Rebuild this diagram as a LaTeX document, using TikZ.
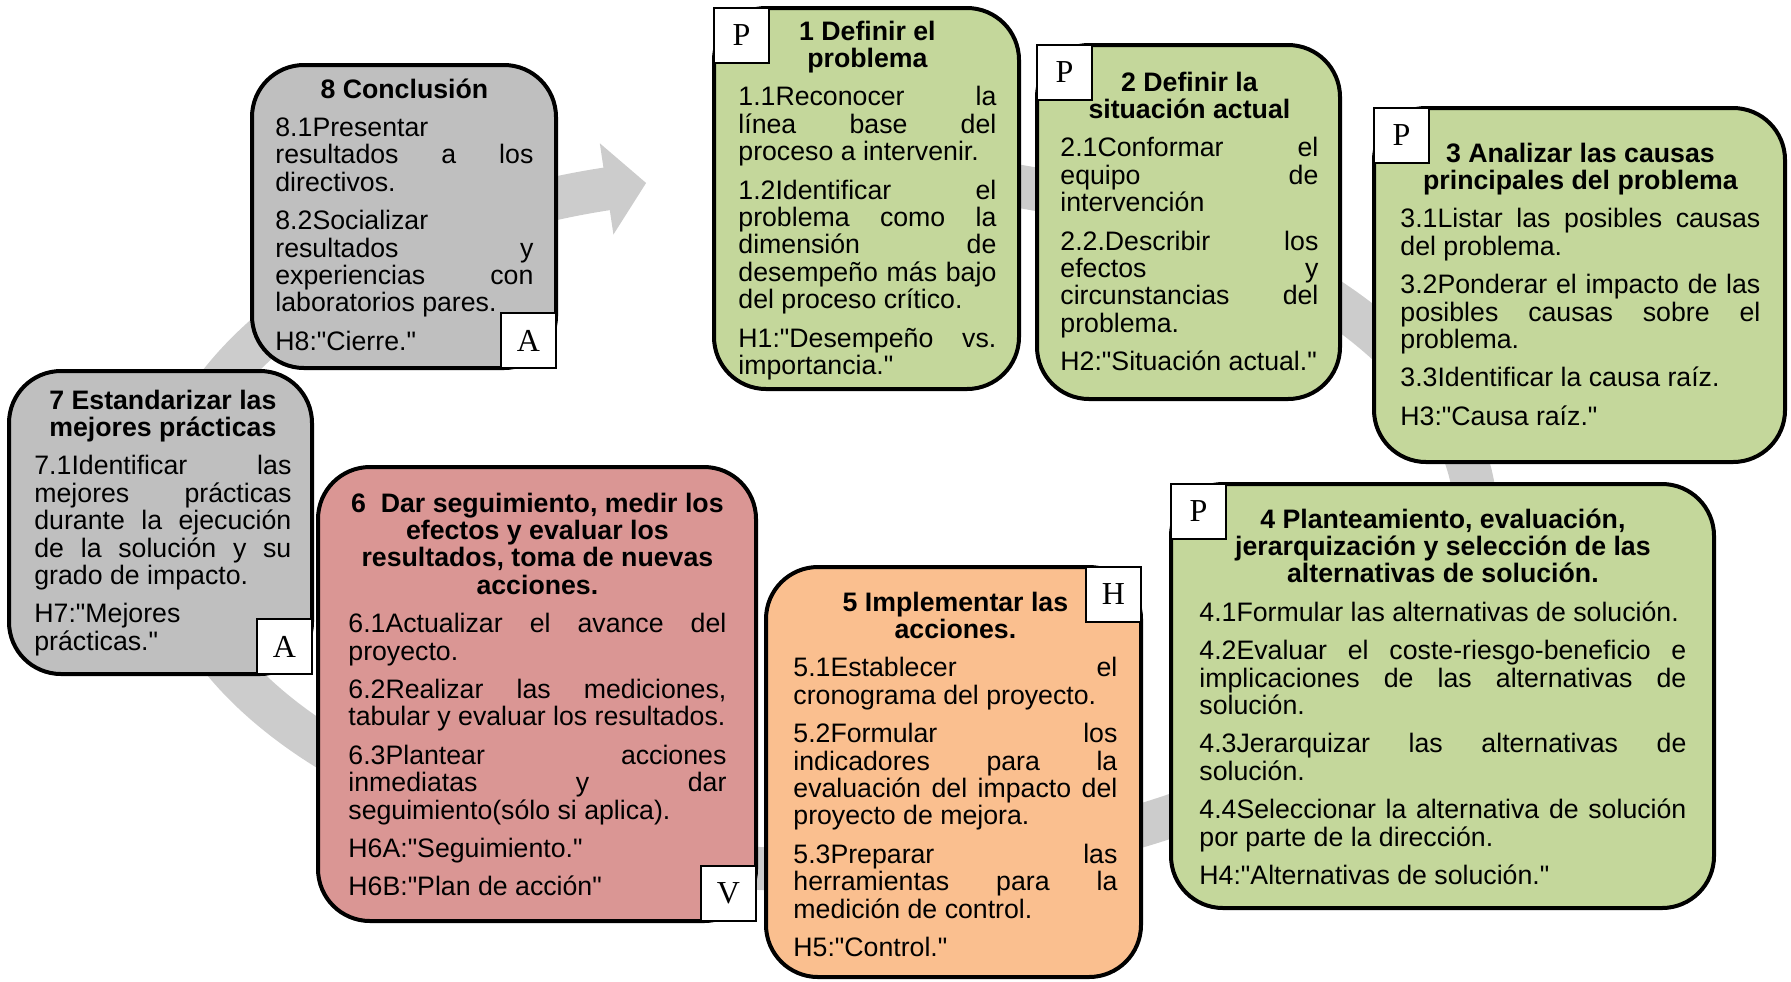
\documentclass[tikz,border=0pt]{standalone}
\usepackage{fontspec}
\setmainfont{Liberation Sans}[Ligatures=TeXOff]
\newfontfamily\letterfont{Liberation Serif}
\usetikzlibrary{arrows.meta, fit}
\definecolor{stepgreen}{RGB}{196, 215, 155}
\definecolor{stepgray}{RGB}{191, 191, 191}
\definecolor{steppink}{RGB}{218, 150, 148}
\definecolor{steporange}{RGB}{250, 191, 143}
\definecolor{ringgray}{RGB}{204, 204, 204}

\begin{document}
\begin{tikzpicture}[
    x=0.5pt, y=-0.5pt,
    stepbox/.style={
        draw=black, line width=2pt, rounded corners=26pt,
        inner sep=0pt, outer sep=0pt
    },
    tagbox/.style={
        draw=black, fill=white, line width=1.4pt,
        minimum size=27.5pt, inner sep=0pt, outer sep=0pt,
        font=\letterfont\fontsize{16}{16}\selectfont
    },
    steptext/.style={
        text width=#1, align=justify, anchor=base west, inner sep=0pt,
        font=\fontsize{13.35}{13.7}\selectfont,
        execute at begin node={\tolerance=10000\setlength{\parskip}{5.5pt}}
    },
    ring/.style={
        draw=ringgray, line width=21.5pt,
        -{Triangle[length=20pt, width=45pt]}
    }
]
\useasboundingbox (0,0) rectangle (1791,981);

% CYCLE ARROW (behind the boxes)
\coordinate (ringstart) at (958,177.7);
\draw[ring] (ringstart) arc[start angle=78, end angle=-254.4, x radius=327pt, y radius=175pt];

% STEP BOXES
\node[stepbox, fill=stepgreen, fit={(714,8) (1019,389)}] (b1) {};
\node[stepbox, fill=stepgreen, fit={(1037,45) (1340,399)}] (b2) {};
\node[stepbox, fill=stepgreen, fit={(1374,108) (1785,462)}] (b3) {};
\node[stepbox, fill=stepgreen, fit={(1171,484) (1714,908)}] (b4) {};
\node[stepbox, fill=steporange, fit={(766,567) (1141,977)}] (b5) {};
\node[stepbox, fill=steppink, fit={(318,467) (756,921)}] (b6) {};
\node[stepbox, fill=stepgray, fit={(9,371) (312,674)}] (b7) {};
\node[stepbox, fill=stepgray, fit={(252,65) (556,368)}] (b8) {};

% PHASE TAGS
\node[tagbox, anchor=north west] (p1) at (b1.north west) {P};
\node[tagbox, anchor=north west] (p2) at (b2.north west) {P};
\node[tagbox, anchor=north west] (p3) at (b3.north west) {P};
\node[tagbox, anchor=north west] (p4) at (b4.north west) {P};
\node[tagbox, anchor=north east] (h5) at (b5.north east) {H};
\node[tagbox, anchor=south east] (v6) at (b6.south east) {V};
\node[tagbox, anchor=south east] (a7) at (b7.south east) {A};
\node[tagbox, anchor=south east] (a8) at (b8.south east) {A};

% STEP TEXTS
\node[steptext=129pt] (t1) at (738,40) {{\bfseries\centering 1 Definir el\\problema\par}
1.1Reconocer la\linebreak línea base del\linebreak proceso a intervenir.\par
1.2Identificar el\linebreak problema como la\linebreak dimensión de\linebreak desempeño más bajo\linebreak del proceso crítico.\par
H1:"Desempeño vs.\linebreak importancia."};

\node[steptext=129pt] (t2) at (1060,91) {{\bfseries\centering 2 Definir la\\situación actual\par}
2.1Conformar el\linebreak equipo de\linebreak intervención\par
2.2.Describir los\linebreak efectos y\linebreak circunstancias del\linebreak problema.\par
H2:"Situación actual."};

\node[steptext=180pt] (t3) at (1400,162) {{\bfseries\centering 3 Analizar las causas\\principales del problema\par}
3.1Listar las posibles causas\linebreak del problema.\par
3.2Ponderar el impacto de las\linebreak posibles causas sobre el\linebreak problema.\par
3.3Identificar la causa raíz.\par
H3:"Causa raíz."};

\node[steptext=243.5pt] (t4) at (1199,528) {{\bfseries\centering 4 Planteamiento, evaluación,\\jerarquización y selección de las\\alternativas de solución.\par}
4.1Formular las alternativas de solución.\par
4.2Evaluar el coste-riesgo-beneficio e\linebreak implicaciones de las alternativas de\linebreak solución.\par
4.3Jerarquizar las alternativas de\linebreak solución.\par
4.4Seleccionar la alternativa de solución\linebreak por parte de la dirección.\par
H4:"Alternativas de solución."};

\node[steptext=162pt] (t5) at (793,611) {{\bfseries\centering 5 Implementar las\\acciones.\par}
5.1Establecer el\linebreak cronograma del proyecto.\par
5.2Formular los\linebreak indicadores para la\linebreak evaluación del impacto del\linebreak proyecto de mejora.\par
5.3Preparar las\linebreak herramientas para la\linebreak medición de control.\par
H5:"Control."};

\node[steptext=189pt] (t6) at (348,512) {{\bfseries\centering 6~~Dar seguimiento, medir los\\efectos y evaluar los\\resultados, toma de nuevas\\acciones.\par}
6.1Actualizar el avance del\linebreak proyecto.\par
6.2Realizar las mediciones,\linebreak tabular y evaluar los resultados.\par
6.3Plantear acciones\linebreak inmediatas y dar\linebreak seguimiento(sólo si aplica).\par
H6A:"Seguimiento."\par
H6B:"Plan de acción"};

\node[steptext=128.5pt] (t7) at (34,409) {{\bfseries\centering 7 Estandarizar las\\mejores prácticas\par}
7.1Identificar las\linebreak mejores prácticas\linebreak durante la ejecución\linebreak de la solución y su\linebreak grado de impacto.\par
H7:"Mejores\newline prácticas."};

\node[steptext=129pt] (t8) at (275,98) {{\bfseries\centering 8 Conclusión\par}
8.1Presentar\linebreak resultados a los\linebreak directivos.\par
8.2Socializar\linebreak resultados y\linebreak experiencias con\linebreak laboratorios pares.\par
H8:"Cierre."};

\end{tikzpicture}
\end{document}
